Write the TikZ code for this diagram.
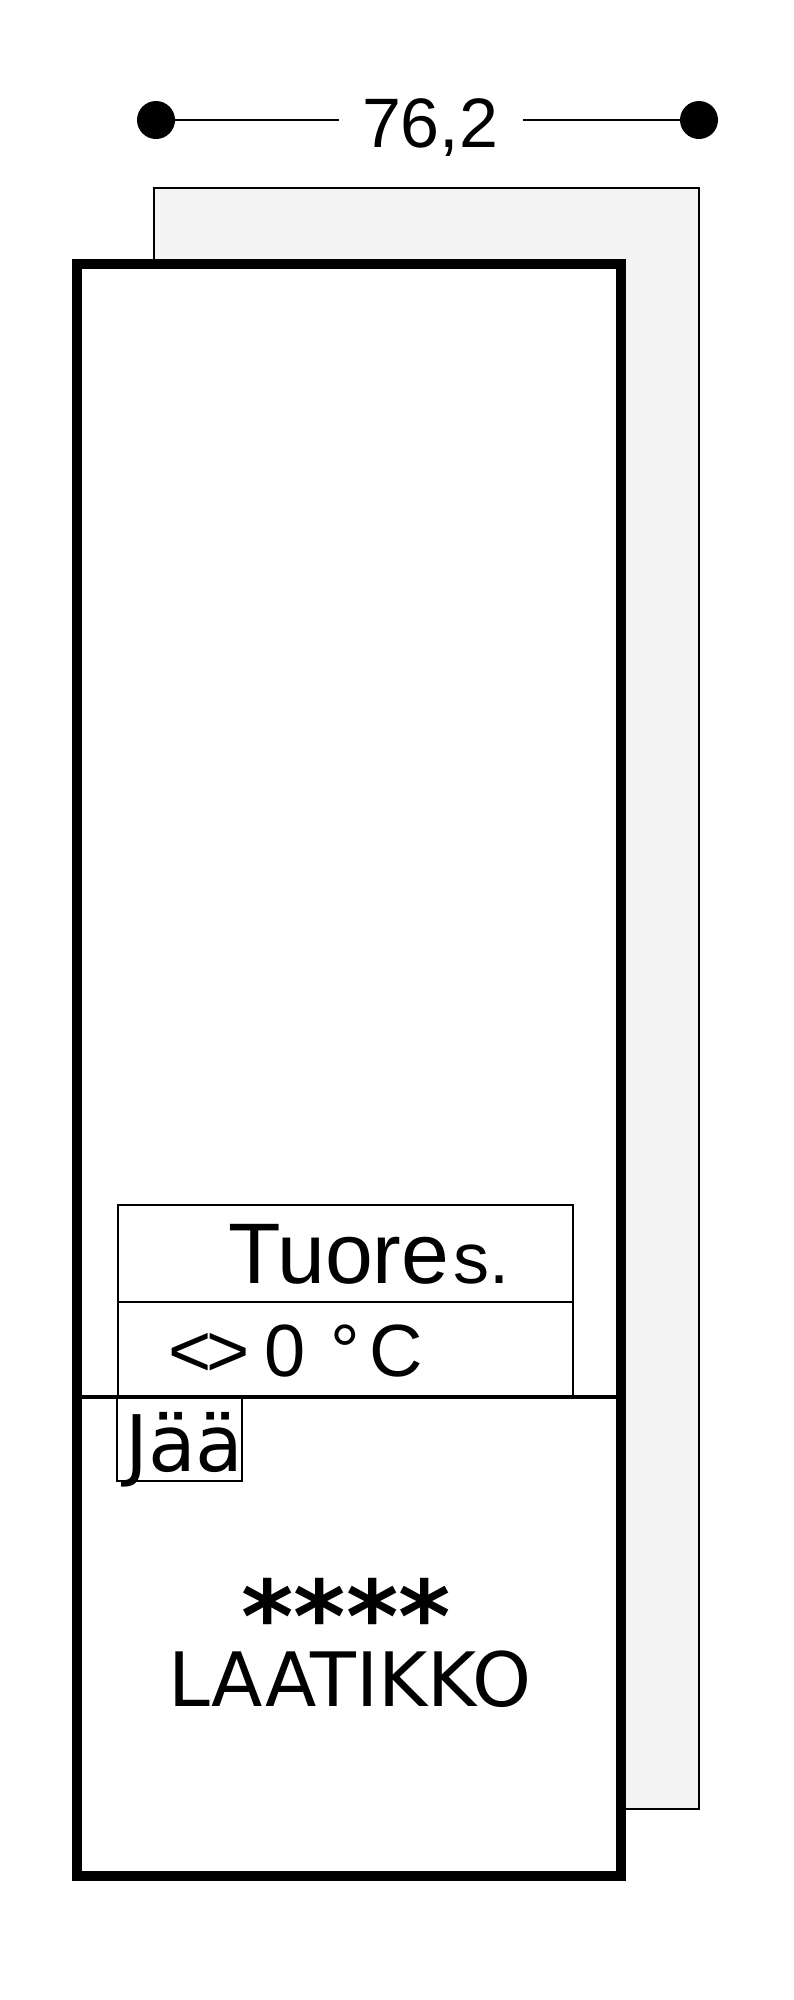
\documentclass[tikz,border=0pt]{standalone}
\usepackage{fontspec}
\setmainfont{Liberation Sans}
\newfontfamily\dejavu{DejaVu Sans}
\definecolor{backgray}{HTML}{F4F4F4}
\begin{document}
\begin{tikzpicture}[x=1pt,y=-1pt,
  lbl/.style={inner sep=0pt,outer sep=0pt,anchor=base west},
  dimdot/.style={circle,fill=black,inner sep=0pt,minimum size=38pt},
  dimline/.style={line width=2pt},
  thinbox/.style={line width=2pt},
]
\useasboundingbox (0,0) rectangle (794,2000);
% back panel
\draw[line width=2pt,fill=backgray] (154,188) rectangle (699,1809);
% main door
\draw[line width=10pt,fill=white] (76.7,264) rectangle (620.7,1875.7);
% divider line
\draw[line width=4pt] (76.7,1397) -- (620.7,1397);
% fresh compartment box
\draw[thinbox] (118.3,1397) -- (118.3,1205) -- (572.5,1205) -- (572.5,1397);
\draw[thinbox] (118.3,1302) -- (572.5,1302);
% ice box
\draw[thinbox] (116.7,1397) rectangle (242,1480.5);
% dimension
\node[dimdot] (dotL) at (156,120) {};
\node[dimdot] (dotR) at (699,120) {};
\coordinate (lineLend) at (339,120);
\coordinate (lineRstart) at (523,120);
\draw[dimline] (dotL.center) -- (lineLend);
\draw[dimline] (lineRstart) -- (dotR.center);
\node[lbl] (dim) at (362,147) {\fontsize{70}{70}\selectfont 76,2};
% texts
\node[lbl,text depth=0pt] (tuores) at (228,1283) {\fontsize{86}{86}\selectfont Tuore\kern4pt\fontsize{72}{72}\selectfont s.};
\node[lbl,text height=54pt] (temp) at (168,1376) {\fontsize{74}{74}\selectfont <\kern-5pt>\kern14.8pt 0\kern25.4pt °\kern9.4pt C};
\node[lbl,text height=58pt] (jaa) at (125,1471) {\dejavu\fontsize{78}{78}\selectfont Jää};
\node[inner sep=0pt,anchor=base] (stars) at (346,1652) {\dejavu\bfseries\fontsize{100}{100}\selectfont ****};
\node[inner sep=0pt,anchor=base] (laatikko) at (350,1706) {\dejavu\fontsize{75}{75}\selectfont LAATIKKO};
\end{tikzpicture}
\end{document}
